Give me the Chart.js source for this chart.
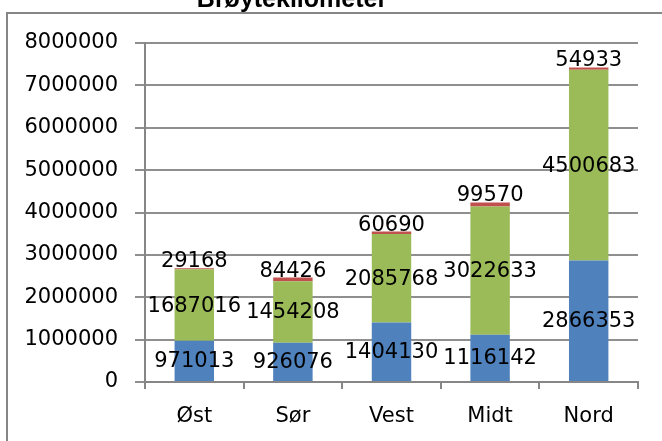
<!DOCTYPE html>
<html>
<head>
<meta charset="utf-8">
<script src="https://cdn.jsdelivr.net/npm/chart.js@4/dist/chart.umd.min.js"></script>
<style>
  html, body { margin: 0; padding: 0; background: #fff; }
  #wrap { width: 662px; height: 441px; position: relative; }
</style>
</head>
<body>
<div id="wrap"><canvas id="c" width="662" height="441"></canvas></div>
<script>
const chartTitle = "Brøytekilometer";
const categories = ["Øst", "Sør", "Vest", "Midt", "Nord"];
const seriesBlue = [971013, 926076, 1404130, 1116142, 2866353];
const seriesGreen = [1687016, 1454208, 2085768, 3022633, 4500683];
const seriesRed = [29168, 84426, 60690, 99570, 54933];
const yTicks = [0, 1000000, 2000000, 3000000, 4000000, 5000000, 6000000, 7000000, 8000000];

const FONT = "'DejaVu Sans', sans-serif";

const framePlugin = {
  id: 'frame',
  beforeDraw(chart) {
    const ctx = chart.ctx;
    ctx.save();
    ctx.fillStyle = '#fff';
    ctx.fillRect(0, 0, chart.width, chart.height);
    ctx.strokeStyle = '#868686';
    ctx.lineWidth = 2;
    ctx.strokeRect(7, 13, chart.width + 20, chart.height + 20);
    ctx.fillStyle = '#000';
    ctx.font = "bold 25px 'Liberation Sans', Arial, sans-serif";
    ctx.textAlign = 'center';
    ctx.textBaseline = 'alphabetic';
    ctx.fillText(chartTitle, 292, 7);
    ctx.restore();
  }
};

const labelPlugin = {
  id: 'barLabels',
  afterDatasetsDraw(chart) {
    const ctx = chart.ctx;
    ctx.save();
    ctx.fillStyle = '#000';
    ctx.font = "21px " + FONT;
    ctx.textAlign = 'center';
    chart.data.datasets.forEach((ds, di) => {
      const meta = chart.getDatasetMeta(di);
      meta.data.forEach((el, i) => {
        const txt = String(ds.data[i]);
        if (di < 2) {
          ctx.textBaseline = 'middle';
          ctx.fillText(txt, el.x, (el.y + el.base) / 2 + 1);
        } else {
          ctx.textBaseline = 'alphabetic';
          ctx.fillText(txt, el.x, el.y - 1);
        }
      });
    });
    ctx.restore();
  }
};

new Chart(document.getElementById('c'), {
  type: 'bar',
  data: {
    labels: categories,
    datasets: [
      { label: 'A', data: seriesBlue, backgroundColor: '#4F81BD' },
      { label: 'B', data: seriesGreen, backgroundColor: '#9BBB59' },
      { label: 'C', data: seriesRed, backgroundColor: '#C0504D' }
    ]
  },
  options: {
    responsive: false,
    animation: false,
    devicePixelRatio: 1,
    layout: { padding: { left: 25, right: 24, top: 43, bottom: 0 } },
    plugins: {
      legend: { display: false },
      title: { display: false },
      tooltip: { enabled: false }
    },
    datasets: { bar: { categoryPercentage: 1.0, barPercentage: 0.4 } },
    scales: {
      x: {
        stacked: true,
        grid: { offset: true, drawOnChartArea: false, drawTicks: true, tickLength: 7, color: '#868686', lineWidth: 2 },
        border: { display: true, color: '#868686', width: 2 },
        ticks: { color: '#000', font: { family: FONT, size: 21 }, padding: 15 },
        afterFit(scale) { scale.height = 59; }
      },
      y: {
        stacked: true,
        min: 0,
        max: 8000000,
        afterBuildTicks(scale) { scale.ticks = yTicks.map(v => ({ value: v })); },
        grid: { color: '#8f8f8f', lineWidth: 2, tickLength: 10 },
        border: { display: true, color: '#868686', width: 2 },
        ticks: { color: '#000', font: { family: FONT, size: 21 }, padding: 17, callback: v => String(v) },
        afterFit(scale) { scale.width = 120; }
      }
    }
  },
  plugins: [framePlugin, labelPlugin]
});
</script>
</body>
</html>
